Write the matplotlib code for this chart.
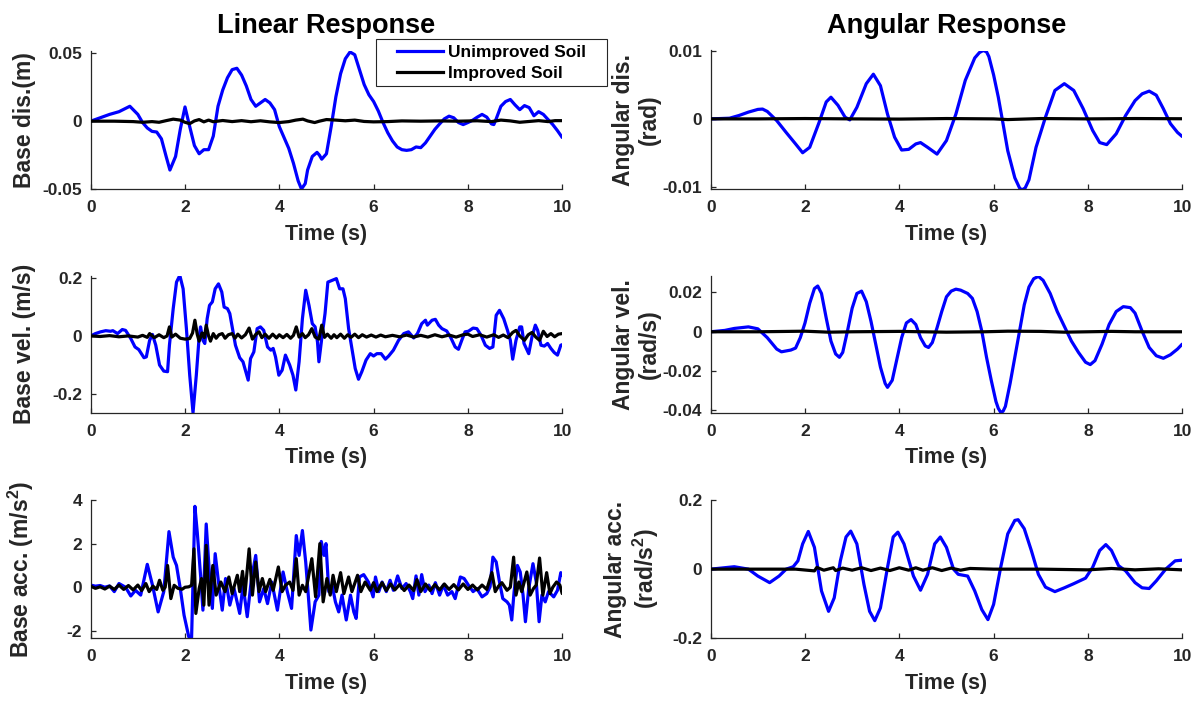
import matplotlib
matplotlib.use("Agg")
import matplotlib.pyplot as plt
from matplotlib.lines import Line2D
from matplotlib.legend_handler import HandlerLine2D

# ---------------- data (time [s], value) ----------------
base_dis_unimproved = [(0,0),(0.2,0.0025),(0.4,0.005),(0.6,0.007),(0.83,0.011),(1.0,0.005),(1.1,-0.001),(1.2,-0.005),
    (1.3,-0.0075),(1.4,-0.008),(1.5,-0.013),(1.6,-0.026),(1.68,-0.036),(1.8,-0.026),(1.9,-0.006),(2.0,0.0105),(2.1,-0.004),
    (2.2,-0.018),(2.3,-0.024),(2.4,-0.021),(2.5,-0.021),(2.6,-0.011),(2.7,0.011),(2.8,0.023),(2.9,0.032),(3.0,0.038),
    (3.1,0.039),(3.2,0.034),(3.3,0.026),(3.4,0.016),(3.5,0.011),(3.6,0.0135),(3.7,0.016),(3.8,0.0135),(3.9,0.0085),
    (4.0,-0.004),(4.1,-0.012),(4.2,-0.020),(4.3,-0.031),(4.4,-0.044),(4.47,-0.050),(4.55,-0.046),(4.6,-0.036),(4.7,-0.026),
    (4.8,-0.023),(4.85,-0.025),(4.9,-0.028),(5.0,-0.024),(5.1,-0.004),(5.2,0.018),(5.3,0.035),(5.4,0.046),(5.5,0.051),
    (5.6,0.049),(5.7,0.038),(5.8,0.027),(5.9,0.0195),(6.0,0.0145),(6.1,0.0075),(6.2,-0.001),(6.3,-0.0085),(6.4,-0.0145),
    (6.5,-0.019),(6.6,-0.021),(6.7,-0.0215),(6.8,-0.021),(6.9,-0.019),(7.0,-0.0195),(7.1,-0.016),(7.2,-0.011),(7.3,-0.006),
    (7.4,-0.002),(7.5,0.0017),(7.6,0.0037),(7.7,0.0025),(7.8,-0.001),(7.9,-0.0025),(8.0,-0.001),(8.1,0.0007),(8.2,0.003),
    (8.3,0.005),(8.4,0.003),(8.5,-0.002),(8.55,-0.0025),(8.6,0.0017),(8.7,0.011),(8.8,0.0145),(8.9,0.016),(9.0,0.012),
    (9.1,0.0085),(9.2,0.0115),(9.3,0.01),(9.4,0.004),(9.5,0.007),(9.6,0.005),(9.7,0.0012),(9.8,-0.0025),(9.9,-0.007),(10.0,-0.012)]
base_dis_improved = [(0,0),(0.5,0.0),(0.9,-0.0003),(1.1,-0.0008),(1.3,-0.0003),(1.45,-0.0008),(1.6,0.0004),(1.75,0.0015),
    (1.9,0.0008),(2.0,-0.0008),(2.1,-0.0018),(2.2,0.0002),(2.3,0.0012),(2.4,-0.0005),(2.5,0.0008),(2.6,-0.0004),(2.8,0.0005),
    (3.0,-0.0003),(3.2,0.0004),(3.4,-0.0004),(3.6,0.0003),(3.8,-0.0005),(4.0,-0.0010),(4.2,-0.0003),(4.35,0.0008),(4.5,0.0015),
    (4.6,0.0002),(4.75,-0.0010),(4.85,0.0),(5.0,0.0012),(5.2,0.0008),(5.4,0.0003),(5.6,0.0008),(5.8,-0.0002),(6.0,-0.0005),
    (6.3,-0.0003),(6.6,0.0002),(7.0,0.0),(7.4,0.0002),(7.8,0.0),(8.2,0.0003),(8.5,-0.0003),(8.7,0.0008),(8.9,0.0002),
    (9.1,-0.0008),(9.3,-0.0002),(9.5,0.0004),(9.7,-0.0003),(9.85,0.0004),(10.0,0.0004)]

ang_dis_unimproved = [(0,0),(0.4,0.0001),(0.6,0.0005),(0.8,0.001),(1.0,0.0014),(1.1,0.00145),(1.2,0.0011),(1.4,-0.00025),
    (1.6,-0.002),(1.8,-0.0037),(1.95,-0.005),(2.1,-0.0042),(2.3,-0.0005),(2.45,0.0025),(2.55,0.0032),(2.7,0.002),
    (2.85,0.00025),(2.95,-0.00015),(3.1,0.0017),(3.3,0.0052),(3.45,0.0066),(3.6,0.0049),(3.75,0.0007),(3.9,-0.0027),
    (4.05,-0.0046),(4.2,-0.0045),(4.35,-0.0037),(4.45,-0.0035),(4.6,-0.0042),(4.8,-0.0052),(5.0,-0.0032),(5.2,0.0007),
    (5.4,0.0057),(5.6,0.009),(5.7,0.0098),(5.78,0.0101),(5.85,0.0099),(5.9,0.0092),(6.0,0.0065),(6.1,0.0032),(6.2,-0.0007),
    (6.3,-0.0047),(6.45,-0.0087),(6.55,-0.0102),(6.6,-0.0105),(6.67,-0.0102),(6.75,-0.009),(6.9,-0.0042),(7.1,0.00025),
    (7.3,0.0042),(7.5,0.0052),(7.7,0.0042),(7.9,0.0015),(8.1,-0.0017),(8.25,-0.0035),(8.4,-0.0038),(8.6,-0.0022),
    (8.8,0.0005),(9.0,0.0027),(9.15,0.0037),(9.3,0.0041),(9.45,0.0035),(9.6,0.0015),(9.75,-0.0007),(9.9,-0.002),(10.0,-0.0026)]
ang_dis_improved = [(0,0),(1,0.0),(2,0.00005),(3,0.0),(4,-0.00003),(5,0.00005),(6,0.0),(6.3,-0.0001),(7,0.00005),
    (8,0.0),(9,0.00005),(10,0.00002)]

base_vel_unimproved = [(0,0),(0.1,0.008),(0.21,0.014),(0.32,0.018),(0.42,0.016),(0.47,0.018),(0.57,0.008),(0.67,0.022),
    (0.74,0.019),(0.85,-0.009),(0.94,-0.038),(1.02,-0.047),(1.13,-0.075),(1.18,-0.072),(1.25,-0.015),(1.31,0.005),
    (1.38,-0.032),(1.46,-0.1),(1.55,-0.121),(1.63,-0.123),(1.67,-0.032),(1.75,0.094),(1.82,0.185),(1.89,0.208),
    (1.96,0.162),(2.03,0.025),(2.1,-0.135),(2.17,-0.264),(2.24,-0.135),(2.3,-0.003),(2.33,0.031),(2.38,-0.015),
    (2.42,-0.026),(2.47,0.059),(2.52,0.105),(2.58,0.117),(2.64,0.162),(2.71,0.179),(2.78,0.151),(2.83,0.099),
    (2.9,0.094),(2.95,0.077),(3.0,0.031),(3.07,-0.032),(3.16,-0.075),(3.23,-0.089),(3.29,-0.123),(3.34,-0.152),
    (3.39,-0.078),(3.46,-0.055),(3.53,0.025),(3.6,0.031),(3.67,0.019),(3.75,-0.038),(3.82,-0.049),(3.87,-0.043),
    (3.92,-0.072),(3.99,-0.135),(4.06,-0.118),(4.13,-0.066),(4.22,-0.1),(4.29,-0.135),(4.35,-0.186),(4.42,-0.089),
    (4.49,0.059),(4.56,0.157),(4.63,0.105),(4.7,0.042),(4.76,0.031),(4.81,-0.021),(4.84,-0.089),(4.9,-0.009),
    (4.97,0.077),(5.03,0.185),(5.12,0.191),(5.21,0.197),(5.28,0.162),(5.35,0.162),(5.4,0.128),(5.47,0.025),
    (5.54,-0.043),(5.61,-0.112),(5.68,-0.149),(5.75,-0.123),(5.84,-0.083),(5.93,-0.061),(6.0,-0.069),(6.07,-0.061),
    (6.16,-0.061),(6.25,-0.08),(6.32,-0.069),(6.42,-0.049),(6.53,-0.015),(6.64,0.008),(6.74,0.014),(6.85,-0.007),
    (6.93,0.008),(7.02,0.042),(7.1,0.054),(7.14,0.037),(7.24,0.054),(7.31,0.057),(7.38,0.037),(7.45,0.025),
    (7.55,0.017),(7.64,-0.007),(7.73,-0.038),(7.8,-0.046),(7.87,-0.015),(7.94,0.014),(8.01,0.016),(8.11,0.027),
    (8.19,0.025),(8.28,0.002),(8.37,-0.032),(8.46,-0.043),(8.53,-0.038),(8.6,0.071),(8.67,0.088),(8.76,0.059),
    (8.84,0.019),(8.9,-0.015),(8.95,-0.08),(9.02,-0.015),(9.1,0.031),(9.14,0.031),(9.19,-0.026),(9.29,-0.061),
    (9.36,-0.003),(9.43,0.037),(9.48,0.019),(9.55,-0.032),(9.62,-0.035),(9.69,-0.026),(9.76,-0.043),(9.83,-0.057),
    (9.9,-0.066),(9.97,-0.032),(10.0,-0.03)]
base_vel_improved = [(0,0),(0.2,-0.002),(0.4,0.001),(0.6,-0.003),(0.8,0.0),(1.0,-0.004),(1.1,0.002),(1.2,-0.005),
    (1.25,0.008),(1.35,-0.006),(1.45,0.004),(1.55,-0.006),(1.62,0.0),(1.67,0.031),(1.72,-0.004),(1.8,0.006),(1.9,-0.008),
    (2.0,-0.011),(2.1,-0.009),(2.16,0.010),(2.21,0.054),(2.26,0.005),(2.3,-0.018),(2.36,0.01),(2.41,-0.006),(2.45,0.037),
    (2.5,0.0),(2.54,-0.018),(2.6,0.008),(2.66,-0.008),(2.72,0.004),(2.79,0.008),(2.85,-0.008),(2.92,0.004),(3.0,0.008),
    (3.06,-0.008),(3.12,0.006),(3.2,-0.007),(3.28,0.004),(3.36,0.027),(3.43,-0.011),(3.5,0.005),(3.57,0.014),(3.63,-0.006),
    (3.7,0.006),(3.78,-0.008),(3.86,0.006),(3.94,-0.007),(4.0,0.004),(4.08,-0.006),(4.16,0.005),(4.24,-0.008),(4.3,0.002),
    (4.36,0.031),(4.42,-0.004),(4.49,0.008),(4.55,-0.006),(4.62,0.004),(4.69,0.025),(4.76,-0.004),(4.84,-0.011),(4.9,0.037),
    (4.96,-0.005),(5.02,0.006),(5.1,-0.008),(5.16,0.004),(5.22,-0.006),(5.3,0.006),(5.38,-0.008),(5.45,0.004),(5.52,-0.005),
    (5.6,0.006),(5.68,-0.006),(5.76,0.004),(5.85,-0.004),(5.95,0.003),(6.05,-0.004),(6.15,0.003),(6.25,-0.003),(6.4,0.002),
    (6.55,-0.003),(6.7,0.003),(6.85,-0.004),(7.0,0.002),(7.15,-0.004),(7.3,0.004),(7.45,-0.003),(7.6,0.003),(7.75,-0.004),
    (7.9,0.004),(8.0,0.006),(8.1,-0.002),(8.25,0.004),(8.4,-0.004),(8.55,0.004),(8.65,-0.005),(8.75,0.003),(8.85,-0.006),
    (8.95,0.012),(9.02,0.019),(9.1,0.0),(9.2,-0.015),(9.28,0.004),(9.36,0.012),(9.44,-0.004),(9.52,-0.015),(9.6,0.016),
    (9.68,-0.002),(9.76,0.008),(9.84,-0.003),(9.92,0.006),(10.0,0.008)]

ang_vel_unimproved = [(0,0),(0.3,0.0007),(0.5,0.0017),(0.8,0.0025),(1.0,0.0015),(1.2,-0.003),(1.4,-0.0088),(1.5,-0.0102),
    (1.7,-0.0093),(1.8,-0.0083),(1.9,-0.003),(2.0,0.0045),(2.1,0.0145),(2.2,0.022),(2.27,0.0233),(2.35,0.0195),
    (2.45,0.007),(2.55,-0.0047),(2.65,-0.0113),(2.73,-0.013),(2.8,-0.0105),(2.9,0.0003),(3.0,0.012),(3.1,0.0195),
    (3.2,0.0207),(3.3,0.0153),(3.4,0.0053),(3.5,-0.0063),(3.6,-0.018),(3.7,-0.0263),(3.75,-0.0283),(3.85,-0.0247),
    (3.95,-0.0138),(4.05,-0.003),(4.15,0.0045),(4.25,0.0062),(4.35,0.0037),(4.45,-0.003),(4.55,-0.0072),(4.62,-0.008),
    (4.7,-0.0055),(4.8,0.002),(4.9,0.0103),(5.0,0.0178),(5.1,0.0207),(5.2,0.0217),(5.3,0.0212),(5.45,0.0195),
    (5.55,0.017),(5.65,0.0103),(5.75,0.0003),(5.85,-0.013),(5.95,-0.0247),(6.05,-0.0355),(6.1,-0.039),(6.15,-0.041),
    (6.2,-0.0405),(6.25,-0.038),(6.35,-0.0263),(6.45,-0.013),(6.55,0.0003),(6.65,0.0137),(6.75,0.0228),(6.85,0.027),
    (6.95,0.0282),(7.05,0.0262),(7.2,0.0195),(7.35,0.0103),(7.5,0.0028),(7.65,-0.0047),(7.8,-0.0105),(7.95,-0.0155),
    (8.05,-0.0167),(8.15,-0.0147),(8.3,-0.0063),(8.45,0.0037),(8.6,0.0103),(8.75,0.0128),(8.9,0.0123),(9.0,0.0095),
    (9.15,0.0003),(9.3,-0.008),(9.45,-0.0122),(9.6,-0.0135),(9.75,-0.0117),(9.9,-0.0088),(10.0,-0.0063)]
ang_vel_improved = [(0,0),(1,0.0),(2,0.0003),(2.5,-0.0002),(3,0.0),(4,0.0002),(5,-0.0002),(5.8,0.0),(6.3,0.0003),
    (7,0.0002),(7.5,-0.0002),(8,0.0),(8.5,0.0002),(9,0.0),(10,0.0)]

base_acc_unimproved = [(0,0.1),(0.1,0.05),(0.2,0.08),(0.3,0.0),(0.4,0.06),(0.5,-0.2),(0.6,0.17),(0.74,0.0),(0.85,-0.4),
    (0.95,-0.14),(1.06,-0.36),(1.2,1.05),(1.31,0.1),(1.43,-1.13),(1.55,-0.2),(1.66,2.55),(1.75,1.38),(1.82,1.0),
    (1.9,-0.06),(1.98,-1.28),(2.08,-2.27),(2.14,-2.3),(2.21,3.71),(2.26,2.52),(2.33,0.55),(2.38,-1.05),(2.45,2.9),
    (2.52,0.55),(2.58,-0.97),(2.64,1.54),(2.71,0.24),(2.79,-1.05),(2.86,0.4),(2.95,-0.82),(3.04,-0.06),(3.16,-1.2),
    (3.23,0.09),(3.32,-1.35),(3.41,0.4),(3.5,1.46),(3.58,-0.67),(3.67,-0.06),(3.75,-0.75),(3.84,0.24),(3.96,-1.05),
    (4.08,0.7),(4.17,-0.2),(4.26,-0.97),(4.36,2.37),(4.42,1.46),(4.49,2.6),(4.56,1.16),(4.62,-0.52),(4.67,-1.96),
    (4.76,-0.67),(4.84,-0.36),(4.89,2.1),(4.95,1.46),(4.99,2.0),(5.05,-0.2),(5.12,0.1),(5.19,-0.67),(5.26,-1.13),
    (5.33,-0.36),(5.42,-1.5),(5.51,-0.36),(5.58,-1.13),(5.63,-1.43),(5.7,0.47),(5.79,0.58),(5.89,0.24),(5.99,-0.44),
    (6.04,0.47),(6.11,-0.2),(6.18,0.24),(6.27,-0.2),(6.35,0.32),(6.42,-0.14),(6.51,0.52),(6.6,-0.06),(6.69,0.17),
    (6.78,-0.2),(6.83,-0.52),(6.9,0.52),(6.96,-0.36),(7.02,0.58),(7.09,-0.2),(7.17,0.1),(7.24,-0.29),(7.31,0.21),
    (7.4,-0.36),(7.48,0.1),(7.57,-0.36),(7.66,-0.2),(7.73,-0.52),(7.84,0.47),(7.92,0.4),(8.01,0.1),(8.11,-0.2),
    (8.19,-0.06),(8.3,-0.44),(8.4,-0.29),(8.47,0.02),(8.53,1.38),(8.6,1.16),(8.67,0.24),(8.74,-0.52),(8.83,-0.67),
    (8.88,-0.82),(8.93,-1.5),(8.98,-0.2),(9.05,1.0),(9.11,0.7),(9.17,-0.36),(9.22,-1.58),(9.29,-0.06),(9.38,1.08),
    (9.45,0.24),(9.51,-1.58),(9.57,-0.36),(9.64,-0.67),(9.71,-0.2),(9.82,-0.44),(9.9,-0.14),(9.97,0.67),(10.0,0.55)]
base_acc_improved = [(0,0.05),(0.1,-0.05),(0.2,0.02),(0.3,-0.08),(0.4,0.05),(0.5,-0.1),(0.6,0.1),(0.7,-0.1),(0.8,0.08),
    (0.9,-0.12),(1.0,0.1),(1.08,-0.15),(1.17,0.17),(1.24,-0.2),(1.32,0.05),(1.4,-0.1),(1.46,0.32),(1.53,-0.14),(1.58,0.0),
    (1.63,1.0),(1.7,-0.52),(1.77,0.09),(1.85,-0.05),(1.94,-0.09),(2.0,0.0),(2.08,0.02),(2.14,0.09),(2.19,1.76),
    (2.23,-1.2),(2.3,-0.06),(2.35,0.4),(2.4,-0.82),(2.45,1.92),(2.51,-0.82),(2.59,1.0),(2.66,-0.36),(2.76,0.24),
    (2.85,-0.2),(2.93,0.47),(3.0,-0.29),(3.11,0.55),(3.16,-0.2),(3.22,0.73),(3.27,-0.36),(3.36,1.76),(3.43,-0.36),
    (3.5,1.16),(3.57,-0.2),(3.64,0.4),(3.71,-0.2),(3.8,0.36),(3.87,-0.14),(3.98,0.93),(4.06,-0.2),(4.13,0.09),
    (4.22,0.24),(4.29,-0.14),(4.36,1.31),(4.42,-0.36),(4.49,0.09),(4.56,-0.2),(4.69,1.31),(4.77,-0.44),(4.86,2.0),
    (4.93,-0.67),(5.01,0.4),(5.08,-0.36),(5.14,0.55),(5.21,-0.2),(5.3,0.67),(5.37,-0.29),(5.47,0.47),(5.54,-0.2),
    (5.66,0.55),(5.73,-0.2),(5.82,0.24),(5.93,-0.14),(6.0,0.21),(6.07,-0.2),(6.18,0.21),(6.27,-0.15),(6.36,0.15),
    (6.45,-0.12),(6.55,0.12),(6.65,-0.15),(6.75,0.1),(6.85,-0.15),(6.92,0.35),(7.0,-0.2),(7.1,0.15),(7.2,-0.15),
    (7.3,0.12),(7.4,-0.12),(7.5,0.15),(7.6,-0.1),(7.7,0.12),(7.8,-0.12),(7.9,0.15),(8.0,-0.1),(8.1,0.1),(8.2,-0.12),
    (8.3,0.1),(8.4,-0.1),(8.51,0.67),(8.58,-0.2),(8.65,0.05),(8.72,0.21),(8.83,-0.14),(8.9,0.0),(8.97,1.38),(9.02,-0.36),
    (9.08,0.24),(9.14,-0.2),(9.25,0.7),(9.32,-0.36),(9.39,-0.06),(9.45,0.1),(9.52,1.34),(9.59,-0.36),(9.67,0.67),
    (9.74,-0.29),(9.8,0.0),(9.88,0.24),(9.95,0.1),(10.0,-0.29)]

ang_acc_unimproved = [(0,0),(0.5,0.007),(0.8,0.0),(1.0,-0.02),(1.25,-0.039),(1.45,-0.02),(1.6,0.0),(1.75,0.007),
    (1.85,0.024),(1.95,0.073),(2.07,0.109),(2.2,0.063),(2.35,-0.063),(2.5,-0.122),(2.62,-0.083),(2.75,0.024),
    (2.87,0.093),(2.97,0.11),(3.1,0.073),(3.25,-0.044),(3.37,-0.122),(3.48,-0.149),(3.6,-0.112),(3.75,0.005),
    (3.87,0.093),(3.97,0.107),(4.1,0.073),(4.3,-0.02),(4.45,-0.061),(4.6,-0.015),(4.75,0.073),(4.87,0.093),
    (5.0,0.063),(5.15,0.0),(5.25,-0.015),(5.45,-0.02),(5.6,-0.063),(5.75,-0.117),(5.88,-0.146),(6.0,-0.102),
    (6.15,0.005),(6.3,0.102),(6.45,0.141),(6.52,0.143),(6.65,0.117),(6.8,0.054),(6.95,-0.015),(7.1,-0.052),
    (7.3,-0.065),(7.5,-0.054),(7.7,-0.042),(7.95,-0.026),(8.1,0.005),(8.25,0.054),(8.38,0.071),(8.5,0.054),
    (8.65,0.01),(8.8,-0.005),(9.0,-0.039),(9.15,-0.054),(9.3,-0.056),(9.45,-0.034),(9.65,0.0),(9.85,0.024),(10.0,0.026)]
ang_acc_improved = [(0,0),(1.0,0.0),(1.8,0.0),(2.2,-0.005),(2.25,0.005),(2.4,-0.003),(2.6,0.004),(2.65,-0.004),
    (2.8,0.003),(3.0,-0.003),(3.2,0.004),(3.4,-0.004),(3.6,0.003),(3.8,-0.004),(4.0,0.004),(4.2,-0.003),(4.35,0.004),
    (4.5,-0.003),(4.7,0.004),(4.9,-0.004),(5.1,0.003),(5.3,-0.003),(5.5,0.002),(6.0,0.0),(7.0,0.0),(8.0,-0.002),
    (8.5,0.002),(9.0,-0.002),(9.5,0.001),(10.0,-0.002)]

col_titles = ["Linear Response", "Angular Response"]
legend_labels = ["Unimproved Soil", "Improved Soil"]
x_label = "Time (s)"
x_ticks = [0, 2, 4, 6, 8, 10]

panels = [
    # (row, col, unimproved, improved, ylabel, ylim, yticks, yticklabels)
    (0, 0, base_dis_unimproved, base_dis_improved, "Base dis.(m)", (-0.0502, 0.0521),
     [-0.05, 0, 0.05], ["-0.05", "0", "0.05"]),
    (0, 1, ang_dis_unimproved, ang_dis_improved, "Angular dis.\n(rad)", (-0.0104, 0.0101),
     [-0.01, 0, 0.01], ["-0.01", "0", "0.01"]),
    (1, 0, base_vel_unimproved, base_vel_improved, "Base vel. (m/s)", (-0.264, 0.206),
     [-0.2, 0, 0.2], ["-0.2", "0", "0.2"]),
    (1, 1, ang_vel_unimproved, ang_vel_improved, "Angular vel.\n(rad/s)", (-0.0412, 0.0284),
     [-0.04, -0.02, 0, 0.02], ["-0.04", "-0.02", "0", "0.02"]),
    (2, 0, base_acc_unimproved, base_acc_improved, r"Base acc. (m/s$^2$)", (-2.34, 4.0),
     [-2, 0, 2, 4], ["-2", "0", "2", "4"]),
    (2, 1, ang_acc_unimproved, ang_acc_improved, "Angular acc.\n(rad/s$^2$)", (-0.2, 0.2),
     [-0.2, 0, 0.2], ["-0.2", "0", "0.2"]),
]

# ---------------- styling ----------------
plt.rcParams.update({
    "font.family": ["Liberation Sans", "DejaVu Sans"],
    "font.weight": "bold",
    "axes.unicode_minus": False,
    "mathtext.fontset": "custom",
    "mathtext.rm": "Liberation Sans:bold",
    "mathtext.bf": "Liberation Sans:bold",
    "mathtext.it": "Liberation Sans:bold",
    "mathtext.default": "bf",
})

W_PX, H_PX = 1197, 702
fig = plt.figure(figsize=(W_PX / 100, H_PX / 100), dpi=100)

col_left = [90.7, 710.7]
ax_width = 471.5
row_box = [(50.5, 189.3), (276.0, 412.7), (500.0, 638.3)]

AXC = "#262626"
BLUE = "#0000ff"
BLACK = "#000000"

for (r, c, unimp, imp, ylab, ylim, yt, ytl) in panels:
    top, bot = row_box[r]
    ax = fig.add_axes([col_left[c] / W_PX, 1 - bot / H_PX, ax_width / W_PX, (bot - top) / H_PX])
    ax.plot([p[0] for p in unimp], [p[1] for p in unimp], color=BLUE, lw=2.3,
            solid_joinstyle="round", solid_capstyle="round", zorder=2)
    ax.plot([p[0] for p in imp], [p[1] for p in imp], color=BLACK, lw=2.3,
            solid_joinstyle="round", solid_capstyle="round", zorder=3)
    ax.set_xlim(0, 10)
    ax.set_ylim(*ylim)
    ax.set_xticks(x_ticks)
    ax.set_xticklabels([str(t) for t in x_ticks])
    ax.set_yticks(yt)
    ax.set_yticklabels(ytl)
    for s in ("top", "right"):
        ax.spines[s].set_visible(False)
    for s in ("left", "bottom"):
        ax.spines[s].set_color(AXC)
        ax.spines[s].set_linewidth(0.9)
    ax.tick_params(axis="both", direction="in", length=3.8, width=0.9, colors=AXC, labelsize=12.5)
    ax.tick_params(axis="y", pad=6.0)
    ax.tick_params(axis="x", pad=8.0)
    for lab in ax.get_xticklabels() + ax.get_yticklabels():
        lab.set_fontweight("bold")
        lab.set_color(AXC)
    ax.set_xlabel(x_label, fontsize=15.5, fontweight="bold", color=AXC, labelpad=6)
    ax.set_ylabel(ylab, fontsize=16.5, fontweight="bold", color=AXC, linespacing=1.15)
    ax.yaxis.set_label_coords(-0.116 if c == 0 else -0.106, 0.5)
    if r == 0:
        ax.set_title(col_titles[c], fontsize=19.5, fontweight="bold", pad=12.5, color="black")

handles = [Line2D([], [], color=BLUE, lw=2.3), Line2D([], [], color=BLACK, lw=2.3)]
leg = fig.legend(handles, legend_labels, loc="upper left",
                 bbox_to_anchor=(376 / W_PX, 1 - 39.3 / H_PX, 231.3 / W_PX, 0.0),
                 mode="expand", borderaxespad=0, prop={"size": 12.5, "weight": "bold"},
                 handlelength=3.56, handletextpad=0.25, borderpad=0.31, labelspacing=0.35,
                 fancybox=False, framealpha=1, edgecolor=AXC,
                 handler_map={Line2D: HandlerLine2D(xpad=0.88)})
leg.get_frame().set_linewidth(0.8)
for t in leg.get_texts():
    t.set_color("black")

fig.savefig("out.png", dpi=100)
